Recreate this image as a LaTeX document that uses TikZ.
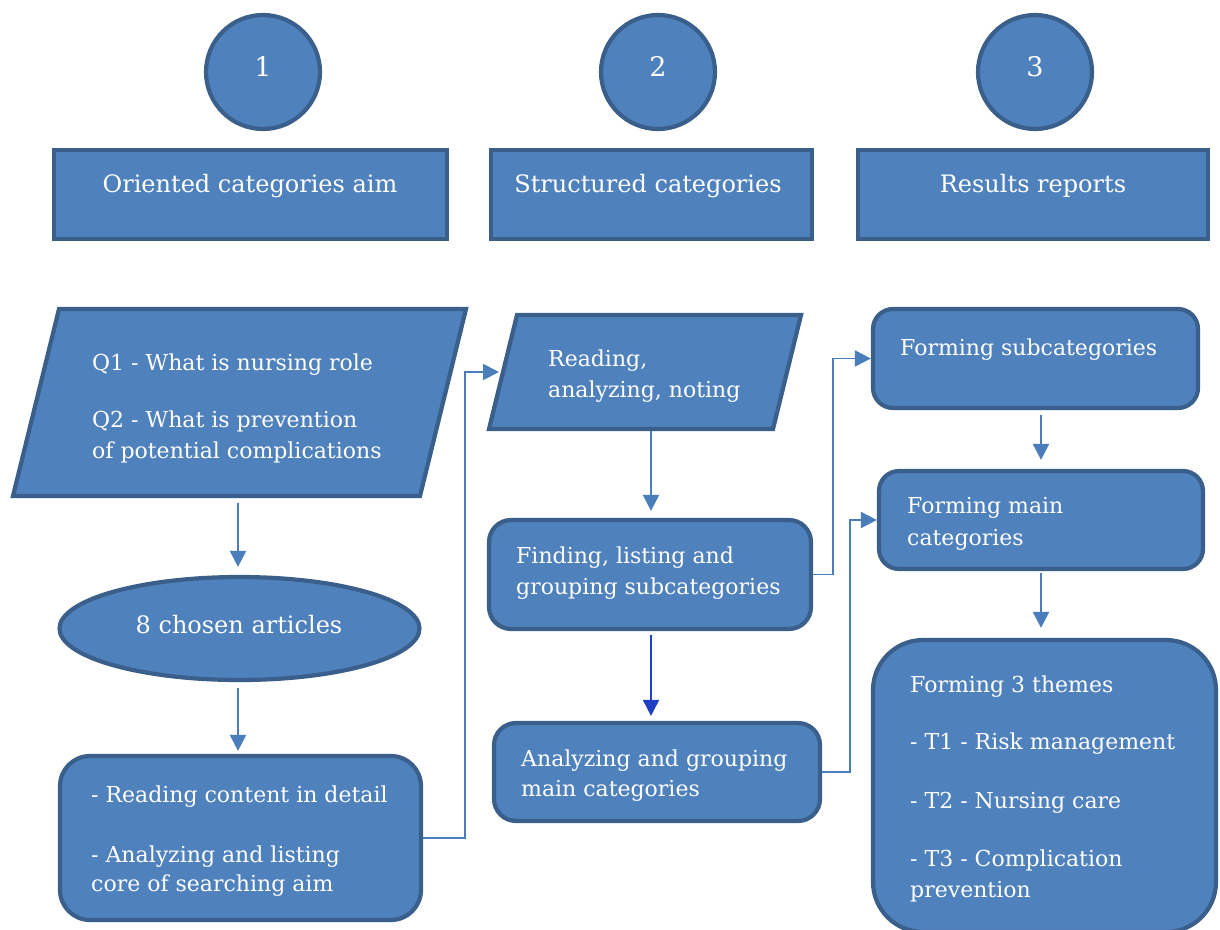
\documentclass[tikz,border=0pt]{standalone}
\usepackage{fontspec}
\setmainfont{DejaVu Serif}
\usetikzlibrary{arrows.meta,shapes.geometric}
\definecolor{boxfill}{HTML}{4F81BD}
\definecolor{boxline}{HTML}{3A5F8B}
\definecolor{linkcol}{HTML}{4A7EBB}
\definecolor{linkdark}{HTML}{1F3FC4}
\begin{document}
\begin{tikzpicture}[x=1pt,y=-1pt,
  shp/.style={draw=boxline, fill=boxfill, line width=4.2pt, inner sep=0pt},
  hdr/.style={shp, rectangle},
  rbox/.style={shp, rectangle, rounded corners=#1},
  num/.style={shp, circle, minimum size=114pt},
  txt/.style={text=white, font=\fontsize{22}{26}\selectfont, inner sep=0pt, anchor=base west},
  htxt/.style={text=white, font=\fontsize{24}{28}\selectfont, inner sep=0pt, anchor=base},
  ntxt/.style={text=white, font=\fontsize{27}{30}\selectfont, inner sep=0pt, anchor=base},
  link/.style={draw=linkcol, line width=1.9pt, -{Triangle[width=16pt,length=16pt]}},
]
\useasboundingbox (0,0) rectangle (1220,929);

% top circles
\node[num] (c1) at (263,72) {};
\node[num] (c2) at (658,72) {};
\node[num] (c3) at (1035,72) {};
\node[ntxt] (c1t) at (263,76) {1};
\node[ntxt] (c2t) at (658,76) {2};
\node[ntxt] (c3t) at (1035,76) {3};

% headers
\node[hdr, minimum width=393pt, minimum height=89pt] (h1) at (250.5,194.5) {};
\node[hdr, minimum width=321pt, minimum height=89pt] (h2) at (651.5,194.5) {};
\node[hdr, minimum width=350pt, minimum height=89pt] (h3) at (1033,194.5) {};
\node[htxt] (h1t) at (250,192) {Oriented categories aim};
\node[htxt] (h2t) at (648,192) {Structured categories};
\node[htxt] (h3t) at (1033,192) {Results reports};

% parallelograms
\draw[shp] (59,309) -- (466,309) -- (420,496) -- (13,496) -- cycle;
\coordinate (p1s) at (238,498);
\draw[shp] (517,315) -- (801,315) -- (773,429) -- (489,429) -- cycle;
\coordinate (p2s) at (651,431);
\coordinate (p2w) at (499,372);

% ellipse
\node[shp, ellipse, minimum width=360pt, minimum height=103pt] (ell) at (239.5,628.5) {};

% rounded boxes
\node[rbox=30pt, minimum width=361pt, minimum height=164pt] (bl) at (240.5,838) {};
\node[rbox=22pt, minimum width=322pt, minimum height=109pt] (find) at (650,574.5) {};
\node[rbox=22pt, minimum width=326pt, minimum height=98pt] (anal) at (657,772) {};
\node[rbox=20pt, minimum width=325pt, minimum height=99pt] (fsub) at (1035.5,358.5) {};
\node[rbox=20pt, minimum width=324pt, minimum height=98pt] (fmain) at (1041,520) {};
\node[rbox=50pt, minimum width=343pt, minimum height=292pt] (them) at (1044.5,786) {};

% texts
\node[txt] (q1) at (92,370) {Q1 - What is nursing role};
\node[txt] (q2a) at (92,427) {Q2 - What is prevention};
\node[txt] (q2b) at (92,458) {of potential complications};
\node[txt] (r1) at (548,366) {Reading,};
\node[txt] (r2) at (548,397) {analyzing, noting};
\node[htxt] (et) at (239,633) {8 chosen articles};
\node[txt] (b1) at (91,802) {- Reading content in detail};
\node[txt] (b2) at (91,862) {- Analyzing and listing};
\node[txt] (b3) at (91,891) {core of searching aim};
\node[txt] (f1) at (516,563) {Finding, listing and};
\node[txt] (f2) at (516,594) {grouping subcategories};
\node[txt] (a1) at (521,766) {Analyzing and grouping};
\node[txt] (a2) at (521,796) {main categories};
\node[txt] (s1) at (900,355) {Forming subcategories};
\node[txt] (m1) at (907,513) {Forming main};
\node[txt] (m2) at (907,545) {categories};
\node[txt] (t0) at (910,692) {Forming 3 themes};
\node[txt] (t1) at (910,749) {- T1 - Risk management};
\node[txt] (t2) at (910,808) {- T2 - Nursing care};
\node[txt] (t3) at (910,866) {- T3 - Complication};
\node[txt] (t4) at (910,897) {prevention};

% connectors
\draw[link, shorten <=5pt, shorten >=8pt] (p1s) -- (p1s |- ell.north);
\draw[link, shorten <=6pt, shorten >=3pt] (p1s |- ell.south) -- (p1s |- bl.north);
\draw[link] (bl.east) -- (465,838) |- (p2w);
\draw[link, shorten >=7pt] (p2s) -- (p2s |- find.north);
\draw[link, draw=linkdark, shorten <=4pt, shorten >=5pt] (p2s |- find.south) -- (p2s |- anal.north);
\draw[link] (find.east) -- (833,574.5) |- (fsub.west);
\draw[link] (anal.east) -- (850,772) |- (fmain.west);
\draw[link, shorten <=5pt, shorten >=9pt] (fmain.north |- fsub.south) -- (fmain.north);
\draw[link, shorten <=2pt, shorten >=10pt] (fmain.south) -- (fmain.south |- them.north);
\end{tikzpicture}
\end{document}
